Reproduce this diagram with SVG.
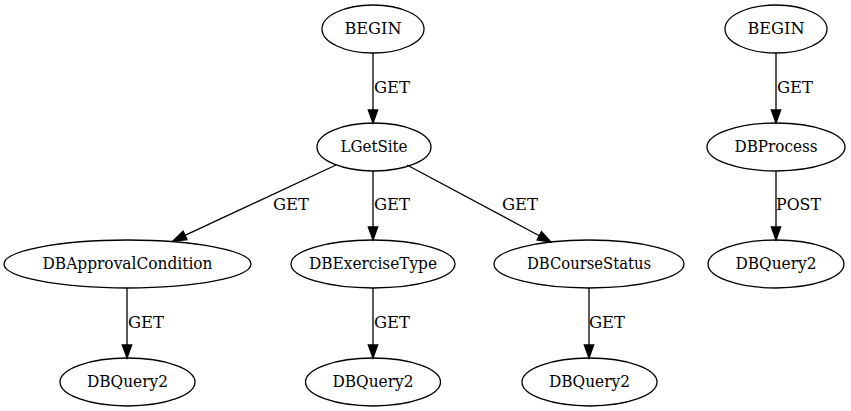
<svg xmlns="http://www.w3.org/2000/svg" width="851" height="411" viewBox="0 0 851 411">
<style>
.n ellipse{fill:none;stroke:#000;stroke-width:1.3}
text{font-family:'DejaVu Serif Condensed','DejaVu Serif',serif;font-stretch:condensed;font-size:16px;fill:#000}
.n text{text-anchor:middle}
.e line{stroke:#000;stroke-width:1.3}
.e polygon{fill:#000;stroke:#000;stroke-width:1.3}
</style>
<rect width="851" height="411" fill="#fff"/>
<g id="nodes">
<g class="n" id="begin1"><ellipse cx="373" cy="29" rx="51" ry="24"/><text x="373" y="34" textLength="57" lengthAdjust="spacingAndGlyphs">BEGIN</text></g>
<g class="n" id="lgetsite"><ellipse cx="374" cy="147" rx="57" ry="24"/><text x="374" y="152" textLength="67" lengthAdjust="spacingAndGlyphs">LGetSite</text></g>
<g class="n" id="dbapproval"><ellipse cx="127.5" cy="264" rx="123.5" ry="24"/><text x="127.5" y="269" textLength="170" lengthAdjust="spacingAndGlyphs">DBApprovalCondition</text></g>
<g class="n" id="dbexercise"><ellipse cx="373" cy="264" rx="82" ry="24"/><text x="373" y="269" textLength="128" lengthAdjust="spacingAndGlyphs">DBExerciseType</text></g>
<g class="n" id="dbcourse"><ellipse cx="589" cy="264" rx="95" ry="24"/><text x="589" y="269" textLength="124" lengthAdjust="spacingAndGlyphs">DBCourseStatus</text></g>
<g class="n" id="dbq1"><ellipse cx="127.5" cy="382" rx="67.5" ry="24"/><text x="127.5" y="387" textLength="81" lengthAdjust="spacingAndGlyphs">DBQuery2</text></g>
<g class="n" id="dbq2"><ellipse cx="373" cy="382" rx="67.5" ry="24"/><text x="373" y="387" textLength="81" lengthAdjust="spacingAndGlyphs">DBQuery2</text></g>
<g class="n" id="dbq3"><ellipse cx="589.5" cy="382" rx="67.5" ry="24"/><text x="589.5" y="387" textLength="81" lengthAdjust="spacingAndGlyphs">DBQuery2</text></g>
<g class="n" id="begin2"><ellipse cx="776" cy="29" rx="51" ry="24"/><text x="776" y="34" textLength="57" lengthAdjust="spacingAndGlyphs">BEGIN</text></g>
<g class="n" id="dbprocess"><ellipse cx="776" cy="147" rx="69" ry="24"/><text x="776" y="152" textLength="83" lengthAdjust="spacingAndGlyphs">DBProcess</text></g>
<g class="n" id="dbq4"><ellipse cx="776" cy="264" rx="68" ry="24"/><text x="776" y="269" textLength="81" lengthAdjust="spacingAndGlyphs">DBQuery2</text></g>
</g>
<g id="edges" class="e">
<line x1="373" y1="53" x2="373" y2="110"/><polygon points="373,123 368.3,110 377.7,110"/>
<line x1="373" y1="171" x2="373" y2="227"/><polygon points="373,240 368.3,227 377.7,227"/>
<line x1="336" y1="165" x2="185" y2="235.4"/><polygon points="173,241 187,239.6 183.1,231.2"/>
<line x1="407" y1="165" x2="539.3" y2="235.7"/><polygon points="551,242 537.1,239.9 541.5,231.6"/>
<line x1="127" y1="288" x2="127" y2="345"/><polygon points="127,358 122.3,345 131.7,345"/>
<line x1="373" y1="288" x2="373" y2="345"/><polygon points="373,358 368.3,345 377.7,345"/>
<line x1="589" y1="288" x2="589" y2="345"/><polygon points="589,358 584.3,345 593.7,345"/>
<line x1="776" y1="53" x2="776" y2="110"/><polygon points="776,123 771.3,110 780.7,110"/>
<line x1="776" y1="171" x2="776" y2="227"/><polygon points="776,240 771.3,227 780.7,227"/>
</g>
<g id="labels">
<text x="374" y="93" textLength="36" lengthAdjust="spacingAndGlyphs">GET</text>
<text x="374" y="210" textLength="36" lengthAdjust="spacingAndGlyphs">GET</text>
<text x="273" y="210" textLength="36" lengthAdjust="spacingAndGlyphs">GET</text>
<text x="502" y="210" textLength="36" lengthAdjust="spacingAndGlyphs">GET</text>
<text x="128" y="328" textLength="36" lengthAdjust="spacingAndGlyphs">GET</text>
<text x="374" y="328" textLength="36" lengthAdjust="spacingAndGlyphs">GET</text>
<text x="589" y="328" textLength="36" lengthAdjust="spacingAndGlyphs">GET</text>
<text x="777" y="93" textLength="36" lengthAdjust="spacingAndGlyphs">GET</text>
<text x="776" y="210" textLength="45" lengthAdjust="spacingAndGlyphs">POST</text>
</g>
</svg>
